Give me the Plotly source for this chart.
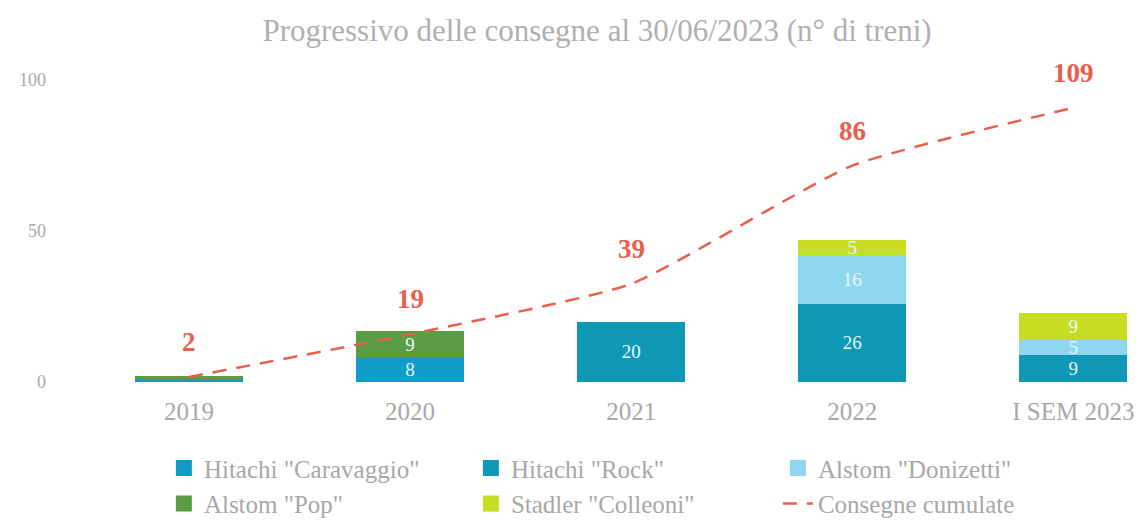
import plotly.graph_objects as go

categories = ["2019", "2020", "2021", "2022", "I SEM 2023"]
caravaggio = [1, 8, 0, 0, 0]
rock = [0, 0, 20, 26, 9]
donizetti = [0, 0, 0, 16, 5]
pop = [1, 9, 0, 0, 0]
colleoni = [0, 0, 0, 5, 9]
cumulate = [2, 19, 39, 86, 109]

series = [
    ('Hitachi "Caravaggio"', caravaggio, "#0f9cc6"),
    ('Hitachi "Rock"', rock, "#0f97b6"),
    ('Alstom "Donizetti"', donizetti, "#8fd7ee"),
    ('Alstom "Pop"', pop, "#5a9c44"),
    ('Stadler "Colleoni"', colleoni, "#c6dd22"),
]

FONT = "Liberation Serif, DejaVu Serif, serif"
GREY = "#a8a8a8"
RED = "#e8604c"
xs = list(range(len(categories)))

fig = go.Figure()
for name, vals, col in series:
    fig.add_trace(go.Bar(
        x=xs, y=vals, name=name, showlegend=False,
        marker=dict(color=col, line=dict(width=0)),
        text=[str(v) if v >= 3 else "" for v in vals],
        textposition="inside", insidetextanchor="middle", textangle=0,
        constraintext="none",
        textfont=dict(family=FONT, size=19, color="#e8f6fa"),
        hoverinfo="skip",
    ))
# legend entries (square swatches)
for name, vals, col in series:
    fig.add_trace(go.Scatter(
        x=[None], y=[None], mode="markers", name=name,
        marker=dict(symbol="square", size=26, color=col),
    ))

y1max = 106
fig.add_trace(go.Scatter(
    x=xs, y=cumulate, name="Consegne cumulate",
    yaxis="y2", mode="lines",
    line=dict(color=RED, width=2.5, dash="14px,10px", shape="spline", smoothing=0.5),
    hoverinfo="skip",
))
for x, v in zip(xs, cumulate):
    fig.add_annotation(x=x, y=v, xref="x", yref="y2", text=f"<b>{v}</b>",
                       showarrow=False, yshift=35, yanchor="middle",
                       font=dict(family=FONT, size=27, color=RED))

fig.update_layout(
    width=1135, height=513,
    barmode="stack", bargap=0.51,
    paper_bgcolor="white", plot_bgcolor="white",
    margin=dict(l=47, r=10, t=54, b=139, autoexpand=False),
    font=dict(family=FONT, color=GREY),
    title=dict(text="Progressivo delle consegne al 30/06/2023 (n° di treni)",
               x=0.519, xanchor="center", y=0.957, yanchor="middle",
               font=dict(family=FONT, size=31, color="#b0b0b0")),
    xaxis=dict(tickmode="array", tickvals=xs, ticktext=categories,
               range=[-0.606, 4.27], showgrid=False, zeroline=False, showline=False,
               ticks="", tickfont=dict(family=FONT, size=25, color=GREY),
               ticklabelstandoff=12),
    yaxis=dict(range=[0, y1max], tickvals=[0, 50, 100], showgrid=False, zeroline=False,
               showline=False, ticks="", ticklabelstandoff=8,
               tickfont=dict(family=FONT, size=18, color=GREY)),
    yaxis2=dict(range=[0, y1max * 1.2], overlaying="y", side="right", visible=False,
                showgrid=False, zeroline=False),
    legend=dict(orientation="h", x=0.101, xanchor="left", y=-0.198, yanchor="top",
                entrywidth=262, entrywidthmode="pixels",
                font=dict(family=FONT, size=25, color=GREY),
                bgcolor="rgba(0,0,0,0)", traceorder="normal"),
    showlegend=True,
)

fig.write_html("out.html")
